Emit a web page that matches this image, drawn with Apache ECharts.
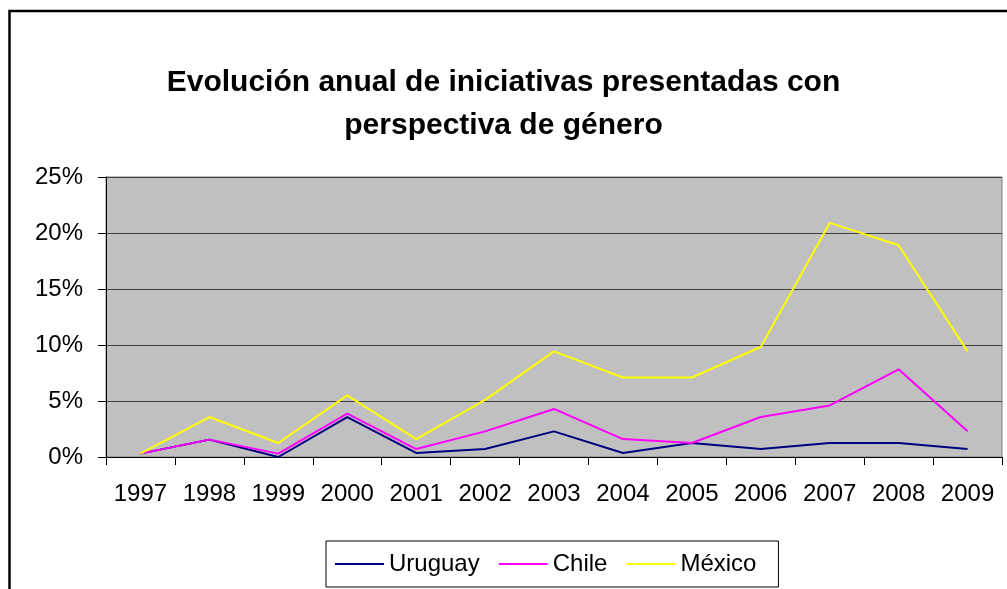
<!DOCTYPE html>
<html>
<head>
<meta charset="utf-8">
<script src="https://cdn.jsdelivr.net/npm/echarts@6/dist/echarts.min.js"></script>
<style>
  html, body { margin: 0; padding: 0; background: #fff; }
  #chart { width: 1007px; height: 589px; }
</style>
</head>
<body>
<div id="chart"></div>
<script>
// categorías (años)
const years = ['1997', '1998', '1999', '2000', '2001', '2002', '2003', '2004', '2005', '2006', '2007', '2008', '2009'];
// valores en %
const uruguay = [0.3, 1.55, 0, 3.57, 0.36, 0.71, 2.29, 0.36, 1.25, 0.71, 1.25, 1.25, 0.71];
const chile   = [0.3, 1.55, 0.3, 3.87, 0.71, 2.29, 4.29, 1.6, 1.25, 3.57, 4.6, 7.83, 2.29];
const mexico  = [0.3, 3.57, 1.25, 5.5, 1.6, 5.1, 9.43, 7.1, 7.1, 9.82, 20.9, 18.9, 9.43];
const yTicks  = [0, 5, 10, 15, 20, 25];

const chart = echarts.init(document.getElementById('chart'));
const font = 'Liberation Sans, Arial, sans-serif';

function mkSeries(name, data, color) {
  return {
    name: name,
    type: 'line',
    data: data,
    symbol: 'none',
    lineStyle: { color: color, width: 2 },
    itemStyle: { color: color },
    animation: false
  };
}

chart.setOption({
  animation: false,
  textStyle: { fontFamily: font },
  // marco exterior del gráfico
  graphic: [{
    type: 'rect',
    shape: { x: 9.5, y: 11, width: 1100, height: 700 },
    style: { fill: 'none', stroke: '#000', lineWidth: 2.5 },
    silent: true
  }],
  title: {
    text: 'Evolución anual de iniciativas presentadas con\nperspectiva de género',
    left: 'center',
    top: 56,
    textStyle: { fontFamily: font, fontSize: 30, fontWeight: 'bold', color: '#000', lineHeight: 43 }
  },
  grid: {
    left: 106, top: 177, right: 5, bottom: 132,
    show: true,
    backgroundColor: '#c0c0c0',
    borderColor: '#808080',
    borderWidth: 1
  },
  legend: {
    left: 326, top: 541,
    data: ['Uruguay', 'Chile', 'México'],
    icon: 'rect',
    itemWidth: 49, itemHeight: 2,
    itemGap: 19,
    padding: [11, 22, 11, 9],
    borderColor: '#000', borderWidth: 1,
    textStyle: { fontFamily: font, fontSize: 24, color: '#000' }
  },
  xAxis: {
    type: 'category',
    data: years,
    boundaryGap: true,
    axisLine: { lineStyle: { color: '#000', width: 1 } },
    axisTick: { show: true, length: 8, inside: false, lineStyle: { color: '#000' } },
    axisLabel: { fontFamily: font, fontSize: 24, color: '#000', margin: 25, interval: 0 },
    splitLine: { show: false }
  },
  yAxis: {
    type: 'value',
    min: 0, max: 25, interval: 5,
    axisLine: { show: true, lineStyle: { color: '#000', width: 1 } },
    axisTick: { show: true, length: 8, lineStyle: { color: '#000' } },
    axisLabel: {
      fontFamily: font, fontSize: 24, color: '#000', margin: 23,
      formatter: function (v) { return yTicks.indexOf(v) >= 0 ? v + '%' : ''; }
    },
    splitLine: { show: true, lineStyle: { color: '#404040', width: 1 } }
  },
  series: [
    mkSeries('Uruguay', uruguay, '#000080'),
    mkSeries('Chile', chile, '#ff00ff'),
    mkSeries('México', mexico, '#ffff00')
  ]
});
</script>
</body>
</html>
